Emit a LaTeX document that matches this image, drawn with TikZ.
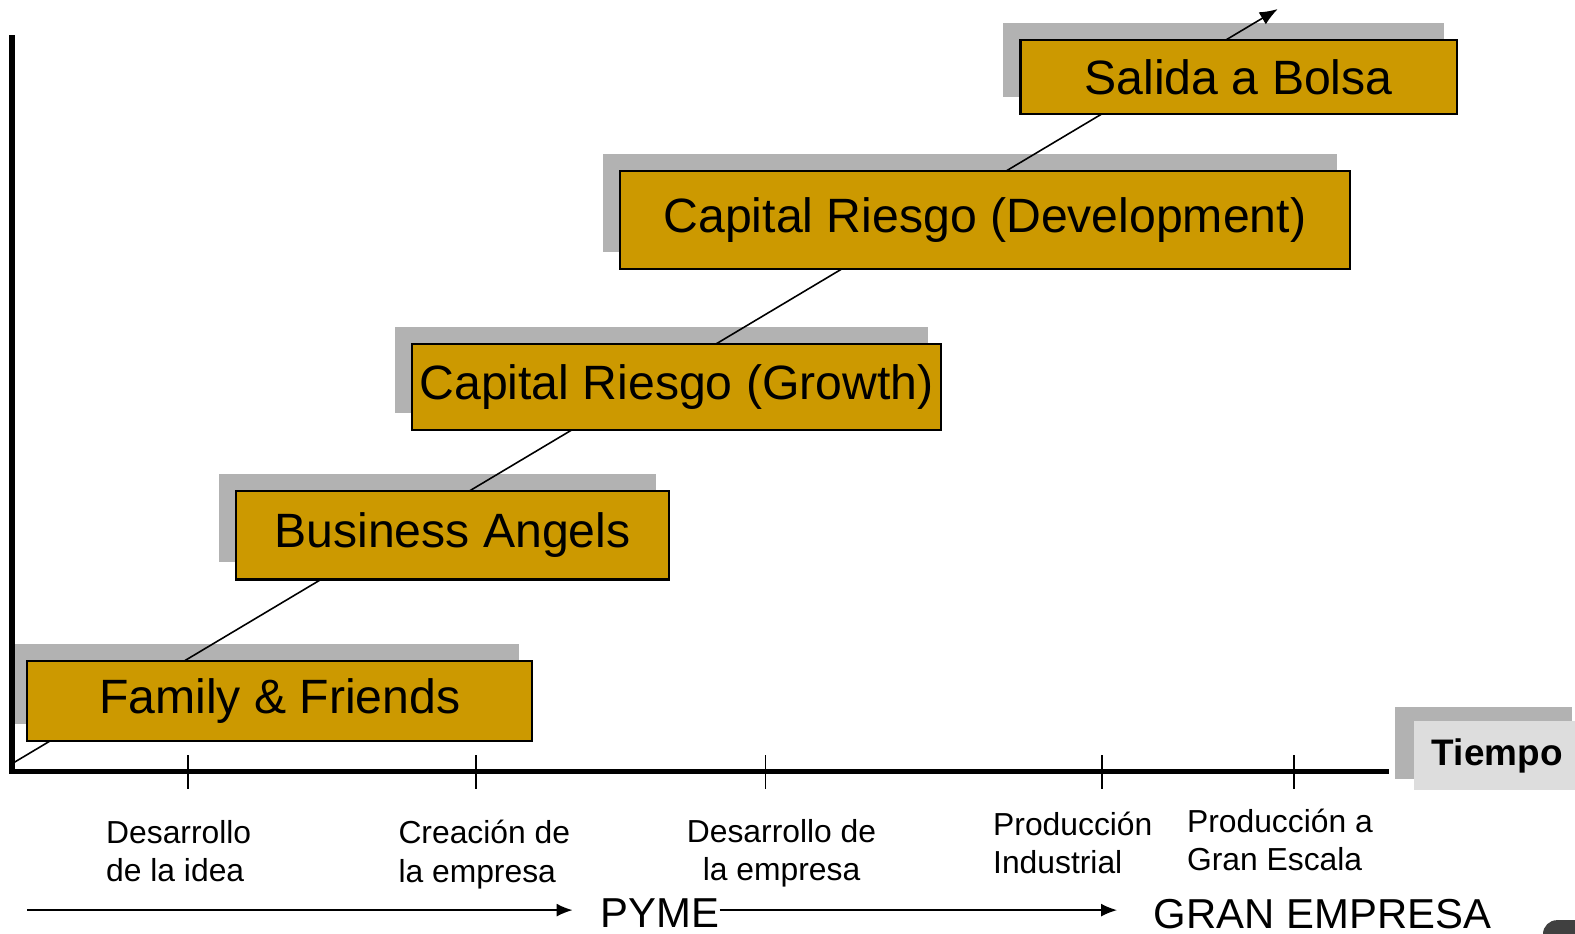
\documentclass[tikz,border=0pt]{standalone}
\usepackage{fontspec}
\setmainfont{Liberation Sans}
\usetikzlibrary{calc,backgrounds,arrows.meta}
\definecolor{gold}{RGB}{204,153,0}
\definecolor{shade}{RGB}{178,178,178}
\definecolor{tag}{RGB}{221,221,221}
\tikzset{
  stage/.style={draw=black, line width=0.6pt, fill=gold, inner sep=0pt,
    font=\fontsize{13.7}{16}\selectfont},
  shadowbox/.style={fill=shade},
  axis/.style={line width=1.65pt},
  tick/.style={line width=0.5pt},
  phase/.style={inner sep=0pt, align=left, font=\fontsize{9.05}{10.85}\selectfont},
  size/.style={inner sep=0pt, font=\fontsize{11.9}{14}\selectfont},
  flow/.style={line width=0.45pt, -{Latex[length=0.16cm,width=0.13cm]}},
}

\begin{document}
\begin{tikzpicture}[x=0.010045cm,y=-0.010045cm]
\useasboundingbox (0,0) rectangle (1567.9,928.8);

% stages of financing
\node[stage, minimum width=5.05cm, minimum height=0.8cm] (fam) at (278.5,697.5) {Family \& Friends};
\node[stage, minimum width=4.33cm, minimum height=0.88cm] (ban) at (450.5,533) {Business Angels};
\node[stage, minimum width=5.29cm, minimum height=0.86cm] (gro) at (673.5,385) {Capital Riesgo (Growth)};
\node[stage, minimum width=7.3cm, minimum height=0.98cm] (dev) at (980.5,219) {Capital Riesgo (Development)};
\node[stage, minimum width=4.36cm, minimum height=0.74cm] (bol) at (1233,77) {Salida a Bolsa};

\coordinate (o) at (14,759);
\coordinate (top) at (1272,9);
\begin{scope}[on background layer]
\foreach \s in {fam,ban,gro,dev,bol}
  \fill[shadowbox] ($(\s.north west)+(-16,-16)$) rectangle ($(\s.south east)+(-14,-18)$);
\draw[line width=0.45pt, -{Latex[length=0.18cm,width=0.14cm]}] (o) -- (top);
\end{scope}

% axes
\coordinate (ytop) at (12,35);
\coordinate (xend) at (1383,768);
\draw[axis] (ytop) |- (xend);
\foreach \x in {187,474,762,1097,1288}
  \draw[tick] (\x,752) -- (\x,785);

% time label
\fill[shadowbox] (1389,704) rectangle (1565,775);
\node[fill=tag, minimum width=1.66cm, minimum height=0.69cm, inner sep=0pt,
  font=\bfseries\fontsize{10.5}{12}\selectfont] (tiempo) at (1490.5,752.5) {Tiempo};

% phases
\node[phase, anchor=north west] (idea) at (105,816) {Desarrollo\\de la idea};
\node[phase, anchor=north west] (crea) at (396,816) {Creación de\\la empresa};
\node[phase, anchor=north, align=center] (desa) at (778,815) {Desarrollo de\\la empresa};
\node[phase, anchor=north west] (indu) at (988,808) {Producción\\Industrial};
\node[phase, anchor=north west] (esca) at (1181,805) {Producción a\\Gran Escala};

% company size
\coordinate (s0) at (27,906);
\node[size, anchor=base west] (pyme) at (597,923) {PYME};
\node[size, anchor=base west] (gran) at (1148,924) {GRAN EMPRESA};
\draw[flow] (s0) -- ($(s0 -| pyme.west)+(-27,0)$);
\draw[flow] (s0 -| pyme.east) -- ($(s0 -| gran.west)+(-36,0)$);

\fill[black!75, rounded corners=0.14cm] (1536,950) |- (1600,916) -- (1600,950) -- cycle;
\end{tikzpicture}
\end{document}
